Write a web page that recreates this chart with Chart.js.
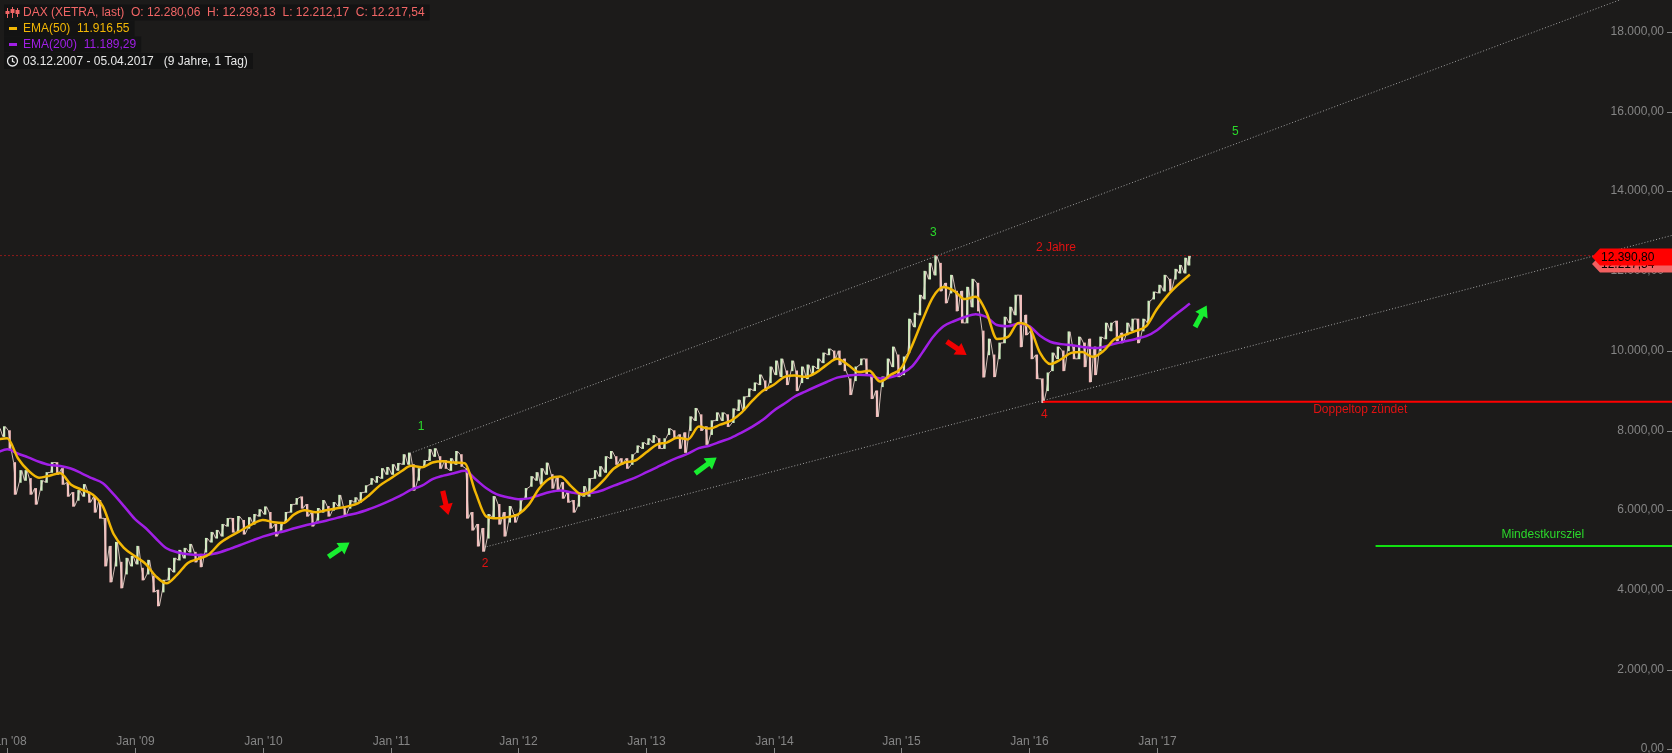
<!DOCTYPE html>
<html><head><meta charset="utf-8">
<script src="https://cdn.jsdelivr.net/npm/chart.js@4.4.1/dist/chart.umd.min.js"></script>
<style>html,body{margin:0;padding:0;background:#1c1b1a;overflow:hidden}#wrap{width:1672px;height:753px;position:relative}canvas{display:block}</style>
</head><body><div id="wrap"><canvas id="c" width="1672" height="753"></canvas></div>
<script>
// ---------- DATA ----------
// half-month periods starting Dec 2007 (two per month), last one = early Apr 2017
const priceLow = [
  7800, 7850,
  7550, 6400, 6700, 6750, 6400, 6150, 6500, 6700, 6950, 6900, 6650, 6350, 6100, 6250, 6350, 6200, 5950, 5800, 4600, 4200, 4600, 4050, 4400, 4600,
  4650, 4250, 4400, 3950, 3600, 3950, 4250, 4450, 4750, 4800, 4950, 4700, 4580, 4950, 5200, 5300, 5350, 5600, 5450, 5450, 5400, 5550, 5650, 5850,
  5900, 5550, 5350, 5500, 5700, 5950, 6150, 6050, 5850, 5600, 5750, 5950, 5850, 6000, 6100, 5850, 6050, 6200, 6200, 6450, 6650, 6700, 6800, 6900,
  6900, 7000, 7150, 7150, 6500, 6750, 7100, 7250, 7350, 7050, 7050, 7000, 7150, 7100, 5800, 5500, 5100, 4970, 5300, 5800, 5650, 5350, 5700, 5700,
  5950, 6300, 6600, 6750, 6650, 6900, 6550, 6500, 6300, 6200, 5950, 6100, 6350, 6350, 6800, 6850, 6950, 7300, 7150, 7150, 7050, 7150, 7450, 7550,
  7650, 7700, 7550, 7550, 7900, 7800, 7550, 7450, 8000, 8250, 8000, 7650, 7900, 8250, 8250, 8100, 8200, 8500, 8500, 8850, 9000, 9150, 9000, 9200,
  9400, 9350, 9150, 9500, 9000, 9200, 9300, 9400, 9550, 9700, 9900, 9800, 9650, 9500, 8900, 9250, 9650, 9400, 8800, 8350, 9100, 9300, 9600, 9350,
  9400, 9950, 10600, 10900, 11300, 11800, 11900, 11500, 11200, 11450, 11000, 10700, 10700, 11100, 11000, 9340, 9900, 9350, 9800, 10200, 10700, 10900, 10100, 10400,
  9800, 9300, 8700, 9000, 9500, 9800, 9500, 10000, 9800, 9800, 9600, 9220, 9400, 10000, 10300, 10500, 10250, 10200, 10400, 10500, 10200, 10500, 10700, 11300,
  11450, 11500, 11500, 11800, 11950, 11950, 12150
];
const priceHigh = [
  8050, 8100,
  8000, 7200, 7000, 7000, 6800, 6550, 6750, 6950, 7200, 7200, 7050, 6700, 6450, 6500, 6650, 6450, 6350, 6250, 5800, 5100, 5200, 4700, 4800, 4850,
  5100, 4550, 4750, 4350, 4000, 4250, 4550, 4800, 5000, 5050, 5150, 4950, 4900, 5300, 5450, 5500, 5650, 5800, 5800, 5850, 5750, 5820, 5900, 6020,
  6090, 5950, 5650, 5650, 5950, 6150, 6300, 6340, 6150, 5950, 6050, 6250, 6100, 6200, 6380, 6100, 6250, 6320, 6450, 6620, 6800, 6850, 7050, 7080,
  7150, 7180, 7400, 7440, 7150, 7050, 7250, 7530, 7550, 7350, 7250, 7300, 7480, 7400, 7050, 5950, 5650, 5550, 5900, 6350, 6150, 5950, 6100, 5900,
  6250, 6550, 6850, 6950, 7050, 7190, 6900, 6850, 6700, 6450, 6250, 6400, 6600, 6800, 7000, 7100, 7350, 7480, 7350, 7300, 7300, 7400, 7620, 7700,
  7800, 7880, 7800, 7800, 8050, 8000, 7900, 7950, 8350, 8560, 8400, 8100, 8250, 8450, 8450, 8400, 8550, 8770, 8850, 9050, 9200, 9400, 9250, 9600,
  9750, 9800, 9500, 9750, 9500, 9600, 9650, 9620, 9800, 9950, 10050, 10000, 10000, 9800, 9300, 9600, 9800, 9800, 9400, 9000, 9350, 9800, 10100, 9900,
  9850, 10800, 10950, 11400, 12000, 12200, 12390, 12200, 11700, 11900, 11500, 11500, 11600, 11800, 11700, 10500, 10300, 9900, 10200, 10850, 11100, 11400, 11400, 10900,
  10500, 9900, 9300, 9450, 9950, 10100, 10000, 10480, 10100, 10350, 10200, 10300, 10100, 10350, 10700, 10700, 10750, 10450, 10700, 10800, 10800, 10800, 11250, 11480,
  11650, 11900, 11800, 12050, 12150, 12330, 12380
];
// monthly values (1st of month) Dec 2007 .. Apr 2017 (last = 05.04.2017)
const ema50 = [
  7770,
  7810, 7300, 7000, 6820, 6870, 6930, 6650, 6520, 6400, 6100, 5400, 5050,
  4850, 4650, 4350, 4170, 4380, 4680, 4780, 4900, 5180, 5350, 5500, 5650,
  5760, 5700, 5680, 5900, 6000, 5950, 6000, 6050, 6100, 6180, 6380, 6620,
  6800, 6980, 7120, 7080, 7200, 7230, 7200, 7180, 6450, 5850, 5800, 5830,
  5900, 6150, 6550, 6800, 6850, 6600, 6400, 6500, 6750, 7050, 7200, 7250,
  7450, 7650, 7700, 7820, 7780, 8100, 8050, 8150, 8250, 8450, 8750, 9000,
  9150, 9350, 9380, 9350, 9450, 9650, 9800, 9650, 9470, 9500, 9230, 9400,
  9580, 10150, 10750, 11350, 11600, 11500, 11300, 11360, 10960, 10300, 10350, 10700,
  10600, 9950, 9670, 9790, 9950, 9970, 9850, 10000, 10290, 10400, 10500, 10620,
  11050, 11400, 11650, 11916.55
];
const ema200 = [
  7440,
  7530, 7420, 7330, 7220, 7140, 7110, 7050, 6930, 6800, 6680, 6400, 6100,
  5780, 5550, 5300, 5050, 4950, 4900, 4880, 4890, 4950, 5040, 5140, 5240,
  5340, 5420, 5470, 5550, 5620, 5680, 5740, 5810, 5880, 5940, 6030, 6130,
  6250, 6380, 6520, 6620, 6780, 6870, 6930, 6990, 6780, 6560, 6400, 6330,
  6280, 6300, 6380, 6460, 6500, 6450, 6420, 6440, 6510, 6620, 6720, 6820,
  6950, 7080, 7200, 7320, 7420, 7560, 7620, 7720, 7820, 7950, 8100, 8270,
  8500, 8680, 8850, 8980, 9100, 9220, 9330, 9380, 9400, 9390, 9310, 9340,
  9430, 9620, 9950, 10350, 10620, 10750, 10850, 10920, 10850, 10650, 10620, 10680,
  10620, 10380, 10230, 10170, 10140, 10100, 10070, 10100, 10180, 10240, 10300, 10370,
  10520, 10750, 10950, 11189.29
];
const yTicks = [0, 2000, 4000, 6000, 8000, 10000, 12000, 14000, 16000, 18000];
const xTickYears = [2008, 2009, 2010, 2011, 2012, 2013, 2014, 2015, 2016, 2017];
const lastOHLC = {o: 12280.06, h: 12293.13, l: 12212.17, c: 12217.54};
const levelTwoYears = 12390.80;
const upperTrend = [{x: 2011.153, y: 7431}, {x: 2021.1, y: 19380}];
const lowerTrend = [{x: 2011.753, y: 5088}, {x: 2021.1, y: 12955}];
const doubleTopLine = [{x: 2016.107, y: 8725}, {x: 2021.1, y: 8725}];
const minTargetLine = [{x: 2018.711, y: 5105}, {x: 2021.1, y: 5105}];
const textLabels = [
  {x: 2011.239, y: 8098, t: '1', c: '#2bd92b'},
  {x: 2011.741, y: 4671, t: '2', c: '#e01212'},
  {x: 2015.249, y: 12965, t: '3', c: '#2bd92b'},
  {x: 2016.118, y: 8392, t: '4', c: '#e01212'},
  {x: 2017.613, y: 15499, t: '5', c: '#2bd92b'},
  {x: 2016.209, y: 12599, t: '2 Jahre', c: '#e01212'},
  {x: 2018.591, y: 8517, t: 'Doppeltop zündet', c: '#e01212'},
  {x: 2020.020, y: 5381, t: 'Mindestkursziel', c: '#2bd92b'}
];
const arrows = [
  {x1: 2010.514, y1: 4830, x2: 2010.679, y2: 5196, c: '#18ee30'},
  {x1: 2013.385, y1: 6927, x2: 2013.553, y2: 7328, c: '#18ee30'},
  {x1: 2017.298, y1: 10600, x2: 2017.389, y2: 11140, c: '#18ee30'},
  {x1: 2011.409, y1: 6490, x2: 2011.453, y2: 5881, c: '#f00000'},
  {x1: 2015.354, y1: 10235, x2: 2015.510, y2: 9900, c: '#f00000'}
];

// ---------- helpers ----------
const X_MIN = 2007.9432, X_MAX = 2021.0314;
function decYear(y, m, d) { const t = Date.UTC(y, m - 1, d), a = Date.UTC(y, 0, 1), b = Date.UTC(y + 1, 0, 1); return y + (t - a) / (b - a); }
function fmtDE(v) { let [i, d] = Math.abs(v).toFixed(2).split('.'); i = i.replace(/\B(?=(\d{3})+(?!\d))/g, '.'); return i + ',' + d; }
function monthOf(k) { const mm = 11 + k; return {y: 2007 + Math.floor(mm / 12), m: mm % 12 + 1}; }

const pricePts = priceLow.map((lo, i) => {
  const {y, m} = monthOf(Math.floor(i / 2));
  const d = i === priceLow.length - 1 ? 3 : (i % 2 ? 23 : 8);
  return {x: decYear(y, m, d), y: [lo, priceHigh[i]]};
});
const isUp = pricePts.map((p, i) => i === 0 || (p.y[0] + p.y[1]) >= (pricePts[i - 1].y[0] + pricePts[i - 1].y[1]));
const priceColors = isUp.map(u => u ? '#c9f0bd' : '#f2b9b9');
// jagged path through each period's extremes (low->high when rising, high->low when falling)
const HALF_PX = 1 / 127.75;
const zigzag = [];
pricePts.forEach((p, i) => {
  const a = isUp[i] ? p.y[0] : p.y[1], b = isUp[i] ? p.y[1] : p.y[0];
  zigzag.push({x: p.x - 1.3 * HALF_PX, y: a}, {x: p.x + 1.3 * HALF_PX, y: b});
});
const emaPts = arr => arr.map((v, k) => { const {y, m} = monthOf(k); return {x: decYear(y, m, k === arr.length - 1 ? 5 : 1), y: v}; });

function drawArrow(ctx, x1, y1, x2, y2, color) {
  const dx = x2 - x1, dy = y2 - y1, len = Math.hypot(dx, dy), ux = dx / len, uy = dy / len, px = -uy, py = ux;
  const headL = 11, headW = 7, sw = 2.6, bx = x2 - ux * headL, by = y2 - uy * headL;
  ctx.beginPath();
  ctx.moveTo(x1 + px * sw, y1 + py * sw); ctx.lineTo(bx + px * sw, by + py * sw); ctx.lineTo(bx + px * headW, by + py * headW);
  ctx.lineTo(x2, y2); ctx.lineTo(bx - px * headW, by - py * headW); ctx.lineTo(bx - px * sw, by - py * sw); ctx.lineTo(x1 - px * sw, y1 - py * sw);
  ctx.closePath(); ctx.fillStyle = color; ctx.fill();
}
function priceTag(ctx, y, text, bg) {
  const tip = 1592, left = 1600, h = 17;
  ctx.beginPath(); ctx.moveTo(tip, y); ctx.lineTo(left, y - h / 2); ctx.lineTo(1672, y - h / 2); ctx.lineTo(1672, y + h / 2); ctx.lineTo(left, y + h / 2); ctx.closePath();
  ctx.fillStyle = bg; ctx.fill();
  ctx.fillStyle = '#000'; ctx.textAlign = 'left'; ctx.textBaseline = 'middle'; ctx.fillText(text, 1601, y + 0.5);
}
const FONT = '"Liberation Sans", Arial, sans-serif';

const overlay = {
  id: 'overlay',
  beforeDraw(chart) { const c = chart.ctx; c.save(); c.fillStyle = '#1c1b1a'; c.fillRect(0, 0, chart.width, chart.height); c.restore(); },
  afterDatasetsDraw(chart) {
    const ctx = chart.ctx, xs = chart.scales.x, ys = chart.scales.y;
    const X = v => xs.getPixelForValue(v), Y = v => ys.getPixelForValue(v);
    ctx.save();
    arrows.forEach(a => drawArrow(ctx, X(a.x1), Y(a.y1), X(a.x2), Y(a.y2), a.c));
    ctx.font = '12px ' + FONT; ctx.textAlign = 'center'; ctx.textBaseline = 'middle';
    textLabels.forEach(t => { ctx.fillStyle = t.c; ctx.fillText(t.t, X(t.x), Y(t.y)); });
    // right axis
    ctx.fillStyle = '#858585'; ctx.strokeStyle = '#858585'; ctx.lineWidth = 1; ctx.textAlign = 'right';
    yTicks.forEach(v => { const y = Math.round(Y(v)); ctx.fillText(fmtDE(v), 1664, y); ctx.beginPath(); ctx.moveTo(1667, y + 0.5); ctx.lineTo(1672, y + 0.5); ctx.stroke(); });
    // bottom axis
    ctx.textAlign = 'center';
    xTickYears.forEach(yr => { const x = Math.round(X(yr)) + 0.5; ctx.fillText("Jan '" + String(yr).slice(2), x, 742); ctx.beginPath(); ctx.moveTo(x, 748); ctx.lineTo(x, 753); ctx.stroke(); });
    // price tags
    priceTag(ctx, Y(lastOHLC.c) + 1.5, fmtDE(lastOHLC.c), '#f26060');
    priceTag(ctx, Y(levelTwoYears) + 1.5, fmtDE(levelTwoYears), '#ff0000');
    // legend
    ctx.textAlign = 'left';
    const rows = [
      {y: 12.5, s: 'DAX (XETRA, last)  O: ' + fmtDE(lastOHLC.o) + '  H: ' + fmtDE(lastOHLC.h) + '  L: ' + fmtDE(lastOHLC.l) + '  C: ' + fmtDE(lastOHLC.c), c: '#f26666'},
      {y: 28.5, s: 'EMA(50)  ' + fmtDE(ema50[ema50.length - 1]), c: '#f2b705'},
      {y: 44.5, s: 'EMA(200)  ' + fmtDE(ema200[ema200.length - 1]), c: '#a11fe6'},
      {y: 61, s: '03.12.2007 - 05.04.2017   (9 Jahre, 1 Tag)', c: '#e8e8e8'}
    ];
    rows.forEach(r => {
      const w = ctx.measureText(r.s).width;
      ctx.fillStyle = '#131313'; ctx.fillRect(4, r.y - 8, 23 + w + 5 - 4, 16);
      ctx.fillStyle = r.c; ctx.fillText(r.s, 23, r.y + 0.5);
    });
    ctx.fillStyle = '#f26666';
    [[7, 8, 18, 11, 14], [12, 7, 18, 9, 13], [17, 8, 17, 10, 14]].forEach(([x, t, b, bt, bb]) => { ctx.fillRect(x, t, 1, b - t); ctx.fillRect(x - 1.5, bt, 4, bb - bt); });
    ctx.fillStyle = '#f2b705'; ctx.fillRect(9, 27, 8, 3);
    ctx.fillStyle = '#a11fe6'; ctx.fillRect(9, 43, 8, 3);
    ctx.strokeStyle = '#e8e8e8'; ctx.lineWidth = 1.3; ctx.beginPath(); ctx.arc(12.5, 61, 5, 0, Math.PI * 2); ctx.stroke();
    ctx.beginPath(); ctx.moveTo(12.5, 58); ctx.lineTo(12.5, 61.3); ctx.lineTo(14.8, 62.5); ctx.stroke();
    ctx.restore();
  }
};

new Chart(document.getElementById('c'), {
  type: 'bar',
  data: {
    datasets: [
      {type: 'line', label: 'EMA(50)', data: emaPts(ema50), borderColor: '#f2b705', borderWidth: 2.5, pointRadius: 0, cubicInterpolationMode: 'monotone', order: 1},
      {type: 'line', label: 'EMA(200)', data: emaPts(ema200), borderColor: '#a11fe6', borderWidth: 2.5, pointRadius: 0, cubicInterpolationMode: 'monotone', order: 2},
      {type: 'line', data: upperTrend, borderColor: '#a0a0a0', borderWidth: 1, borderDash: [1, 2], pointRadius: 0, order: 3},
      {type: 'line', data: lowerTrend, borderColor: '#a0a0a0', borderWidth: 1, borderDash: [1, 2], pointRadius: 0, order: 3},
      {type: 'line', data: [{x: X_MIN, y: levelTwoYears}, {x: X_MAX, y: levelTwoYears}], borderColor: '#8e1b1b', borderWidth: 1, borderDash: [2, 2], pointRadius: 0, order: 4},
      {type: 'line', data: doubleTopLine, borderColor: '#ff0000', borderWidth: 2, pointRadius: 0, order: 3},
      {type: 'line', data: minTargetLine, borderColor: '#11e011', borderWidth: 2, pointRadius: 0, order: 3},
      {type: 'line', label: 'DAX path', data: zigzag, borderColor: 'rgba(236,214,206,0.85)', borderWidth: 1, pointRadius: 0, tension: 0, order: 5},
      {type: 'bar', label: 'DAX', data: pricePts, backgroundColor: priceColors, borderWidth: 0, barThickness: 1.6, order: 6}
    ]
  },
  options: {
    responsive: false, animation: false, events: [],
    layout: {padding: 0},
    plugins: {legend: {display: false}, tooltip: {enabled: false}},
    scales: {
      x: {type: 'linear', min: X_MIN, max: X_MAX, offset: false, display: false},
      y: {type: 'linear', min: -88, max: 18803, display: false}
    }
  },
  plugins: [overlay]
});
</script>
</body></html>
